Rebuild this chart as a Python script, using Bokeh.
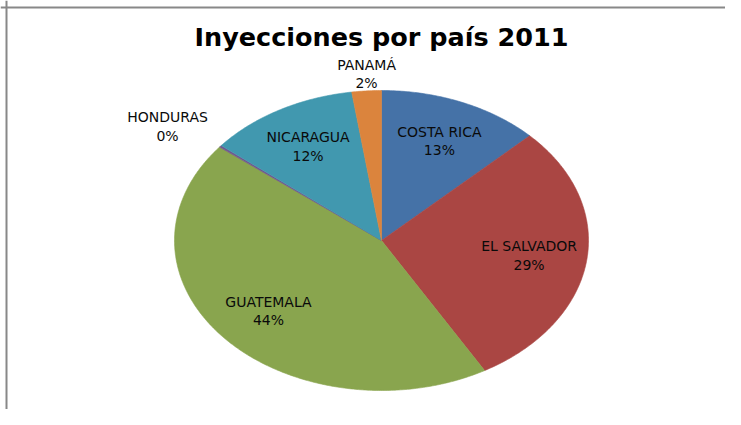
import numpy as np
from bokeh.plotting import figure
from bokeh.models import Range1d, Span, Label, ColumnDataSource
from bokeh.core.properties import value
from bokeh.embed import file_html
from bokeh.resources import INLINE

# ---- data ----
title_text = "Inyecciones por país 2011"
countries = ["COSTA RICA", "EL SALVADOR", "GUATEMALA", "HONDURAS", "NICARAGUA", "PANAMÁ"]
shares = [12.7, 29.0, 44.0, 0.2, 11.8, 2.3]
colors = ["#4572A7", "#AA4643", "#89A54E", "#71588F", "#4198AF", "#DB843D"]

# ---- layout (pixels) ----
W, H = 725, 409
cx_px, cy_px = 381, 240      # pie centre in canvas pixels (from left / from top)
rx_px, ry_px = 207, 150      # ellipse radii in pixels
lab_hw, lab_hh = 48, 17      # half size of outside labels in pixels

x0 = -cx_px / rx_px
x1 = (W - cx_px) / rx_px
y0 = -(H - cy_px) / ry_px
y1 = cy_px / ry_px

p = figure(width=W, height=H, output_backend="svg", toolbar_location=None,
           x_range=Range1d(x0, x1), y_range=Range1d(y0, y1),
           min_border=0, min_border_left=0, min_border_right=0,
           min_border_top=0, min_border_bottom=0)
p.axis.visible = False
p.xgrid.visible = False
p.ygrid.visible = False
p.outline_line_color = None
p.background_fill_color = "white"
p.border_fill_color = "white"

# ---- slices (clockwise from 12 o'clock) ----
vals = np.array(shares, dtype=float)
frac = vals / vals.sum()
ends = np.cumsum(frac) * 2 * np.pi
starts = ends - frac * 2 * np.pi

xs, ys = [], []
for a0, a1 in zip(starts, ends):
    n = max(int((a1 - a0) / (2 * np.pi) * 720), 3)
    t = np.linspace(a0, a1, n)
    xs.append([0.0] + list(np.sin(t)) + [0.0])
    ys.append([0.0] + list(np.cos(t)) + [0.0])

src = ColumnDataSource(dict(xs=xs, ys=ys, color=colors, name=countries))
p.patches("xs", "ys", source=src, fill_color="color", line_color="color", line_width=0.6)

# ---- labels ----
mids = (starts + ends) / 2
lab = dict(x=[], y=[], t=[])
for i, (m, f) in enumerate(zip(mids, frac)):
    txt = f"{countries[i]}\n{int(round(f * 100))}%"
    if f > 0.05:
        x, y = np.sin(m) * 0.72, np.cos(m) * 0.72
    elif np.cos(m) > 0.9:
        x, y = np.sin(m) * 1.0, np.cos(m) * 1.0 + lab_hh / ry_px
    else:
        x = np.sin(m) * 1.03 - lab_hw / rx_px
        y = np.cos(m) * 1.03 + lab_hh / ry_px
    lab["x"].append(x)
    lab["y"].append(y)
    lab["t"].append(txt)

p.text("x", "y", text="t", source=ColumnDataSource(lab), text_align="center",
       text_baseline="middle", text_font=value("DejaVu Sans"), text_font_size="14px",
       text_color="#0a0a0a", text_line_height=1.15)

# ---- title ----
p.add_layout(Label(x=0, y=(cy_px - 36) / ry_px, text=title_text, text_align="center",
                   text_baseline="middle", text_font="DejaVu Sans", text_font_size="25.5px",
                   text_font_style="bold", text_color="#000000"))

# ---- chart-area border (left and top edges visible) ----
p.add_layout(Span(location=x0 + 6.0 / rx_px, dimension="height", line_color="#888888", line_width=2))
p.add_layout(Span(location=y1 - 7.0 / ry_px, dimension="width", line_color="#888888", line_width=2))

open("out.html", "w").write(file_html(p, INLINE))
